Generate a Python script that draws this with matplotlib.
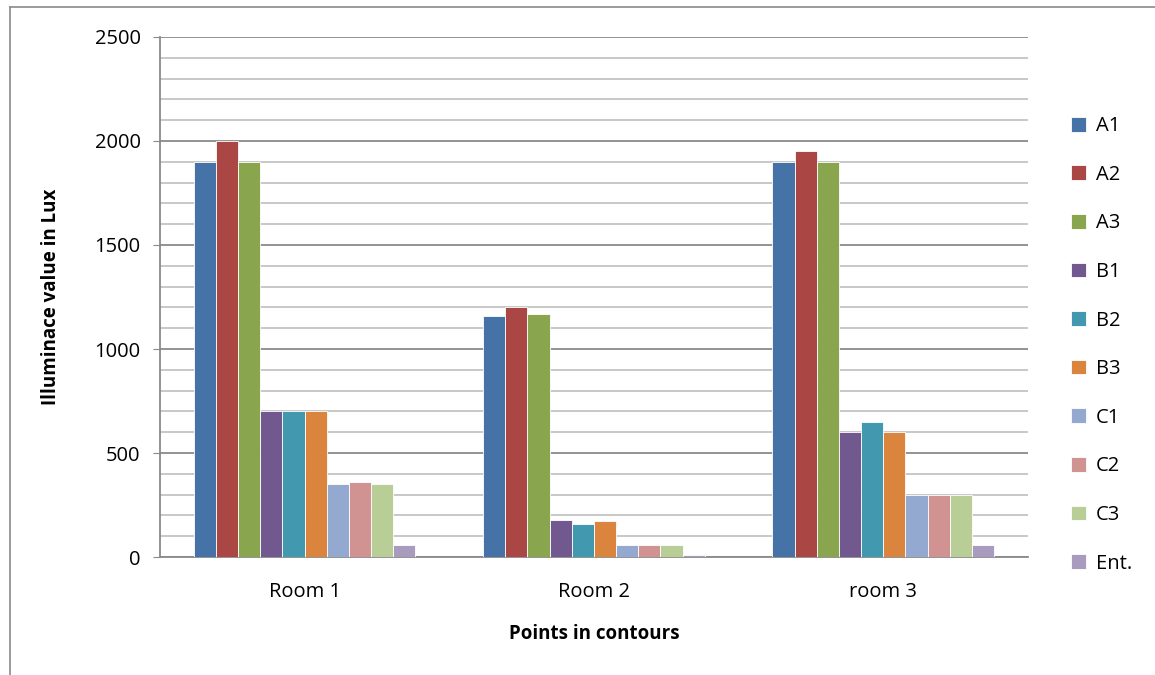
# Illuminance per measuring point, grouped bar chart (Excel 2007 style)

import numpy as np
import matplotlib.pyplot as plt
from matplotlib.ticker import MultipleLocator, NullLocator


# Data
rooms = ["Room 1", "Room 2", "room 3"]
points = ["A1", "A2", "A3", "B1", "B2", "B3", "C1", "C2", "C3", "Ent."]

A1 = [1900, 1160, 1900]
A2 = [2000, 1200, 1950]
A3 = [1900, 1170, 1900]
B1 = [700, 180, 600]
B2 = [700, 160, 650]
B3 = [700, 175, 600]
C1 = [350, 60, 300]
C2 = [360, 60, 300]
C3 = [350, 60, 300]
Ent = [60, 10, 60]

series = [A1, A2, A3, B1, B2, B3, C1, C2, C3, Ent]
colors = ["#4572a7", "#aa4643", "#89a54e", "#71588f", "#4198af",
          "#db843d", "#93a9cf", "#d19392", "#b9cd96", "#a99bbd"]

plt.rcParams["font.family"] = ["Open Sans", "DejaVu Sans"]

fig = plt.figure(figsize=(11.55, 6.75), dpi=100)
ax = fig.add_axes([0.1385, 0.1748, 0.7515, 0.7704])

x = np.arange(len(rooms))
group_width = 0.766
bar_w = group_width / len(series)
for i, (vals, c, name) in enumerate(zip(series, colors, points)):
    offs = -group_width / 2 + bar_w * (i + 0.5)
    ax.bar(x + offs, vals, width=bar_w, color=c, edgecolor="white",
           linewidth=0.6, label=name, zorder=3)

ax.set_xlim(-0.5, 2.5)
ax.set_ylim(0, 2500)
ax.yaxis.set_major_locator(MultipleLocator(500))
ax.yaxis.set_minor_locator(MultipleLocator(100))
ax.grid(which="major", axis="y", color="#8a8a8a", linewidth=1.3, zorder=0)
ax.grid(which="minor", axis="y", color="#c4c4c4", linewidth=1.3, zorder=0)

ax.set_xticks(x)
ax.set_xticklabels(rooms, fontsize=14.5)
ax.xaxis.set_minor_locator(NullLocator())
ax.tick_params(axis="x", length=0, pad=18)
ax.tick_params(axis="y", which="major", length=5, color="#8a8a8a",
               labelsize=14.5, pad=9)
ax.tick_params(axis="y", which="minor", length=0)

for side in ["top", "right"]:
    ax.spines[side].set_visible(False)
ax.spines["left"].set_color("#8a8a8a")
ax.spines["bottom"].set_color("#8a8a8a")
ax.spines["left"].set_linewidth(1.3)
ax.spines["bottom"].set_linewidth(1.3)

ax.set_ylabel("Illuminace value in Lux", fontsize=13.5, fontweight="bold", labelpad=24)
ax.set_xlabel("Points in contours", fontsize=13.5, fontweight="bold", labelpad=16)

leg = ax.legend(loc="center left", bbox_to_anchor=(1.05, 0.408), frameon=False,
                fontsize=14.5, handlelength=0.75, handleheight=0.75,
                handletextpad=0.45, labelspacing=1.42, borderpad=0,
                borderaxespad=0)

# chart area border (left and top edges visible in the reference)
fig.add_artist(plt.Line2D([0.009, 0.009], [0.0, 0.99], color="#8a8a8a", linewidth=1.2))
fig.add_artist(plt.Line2D([0.009, 1.0], [0.99, 0.99], color="#8a8a8a", linewidth=1.2))

fig.savefig("out.png", dpi=100)
